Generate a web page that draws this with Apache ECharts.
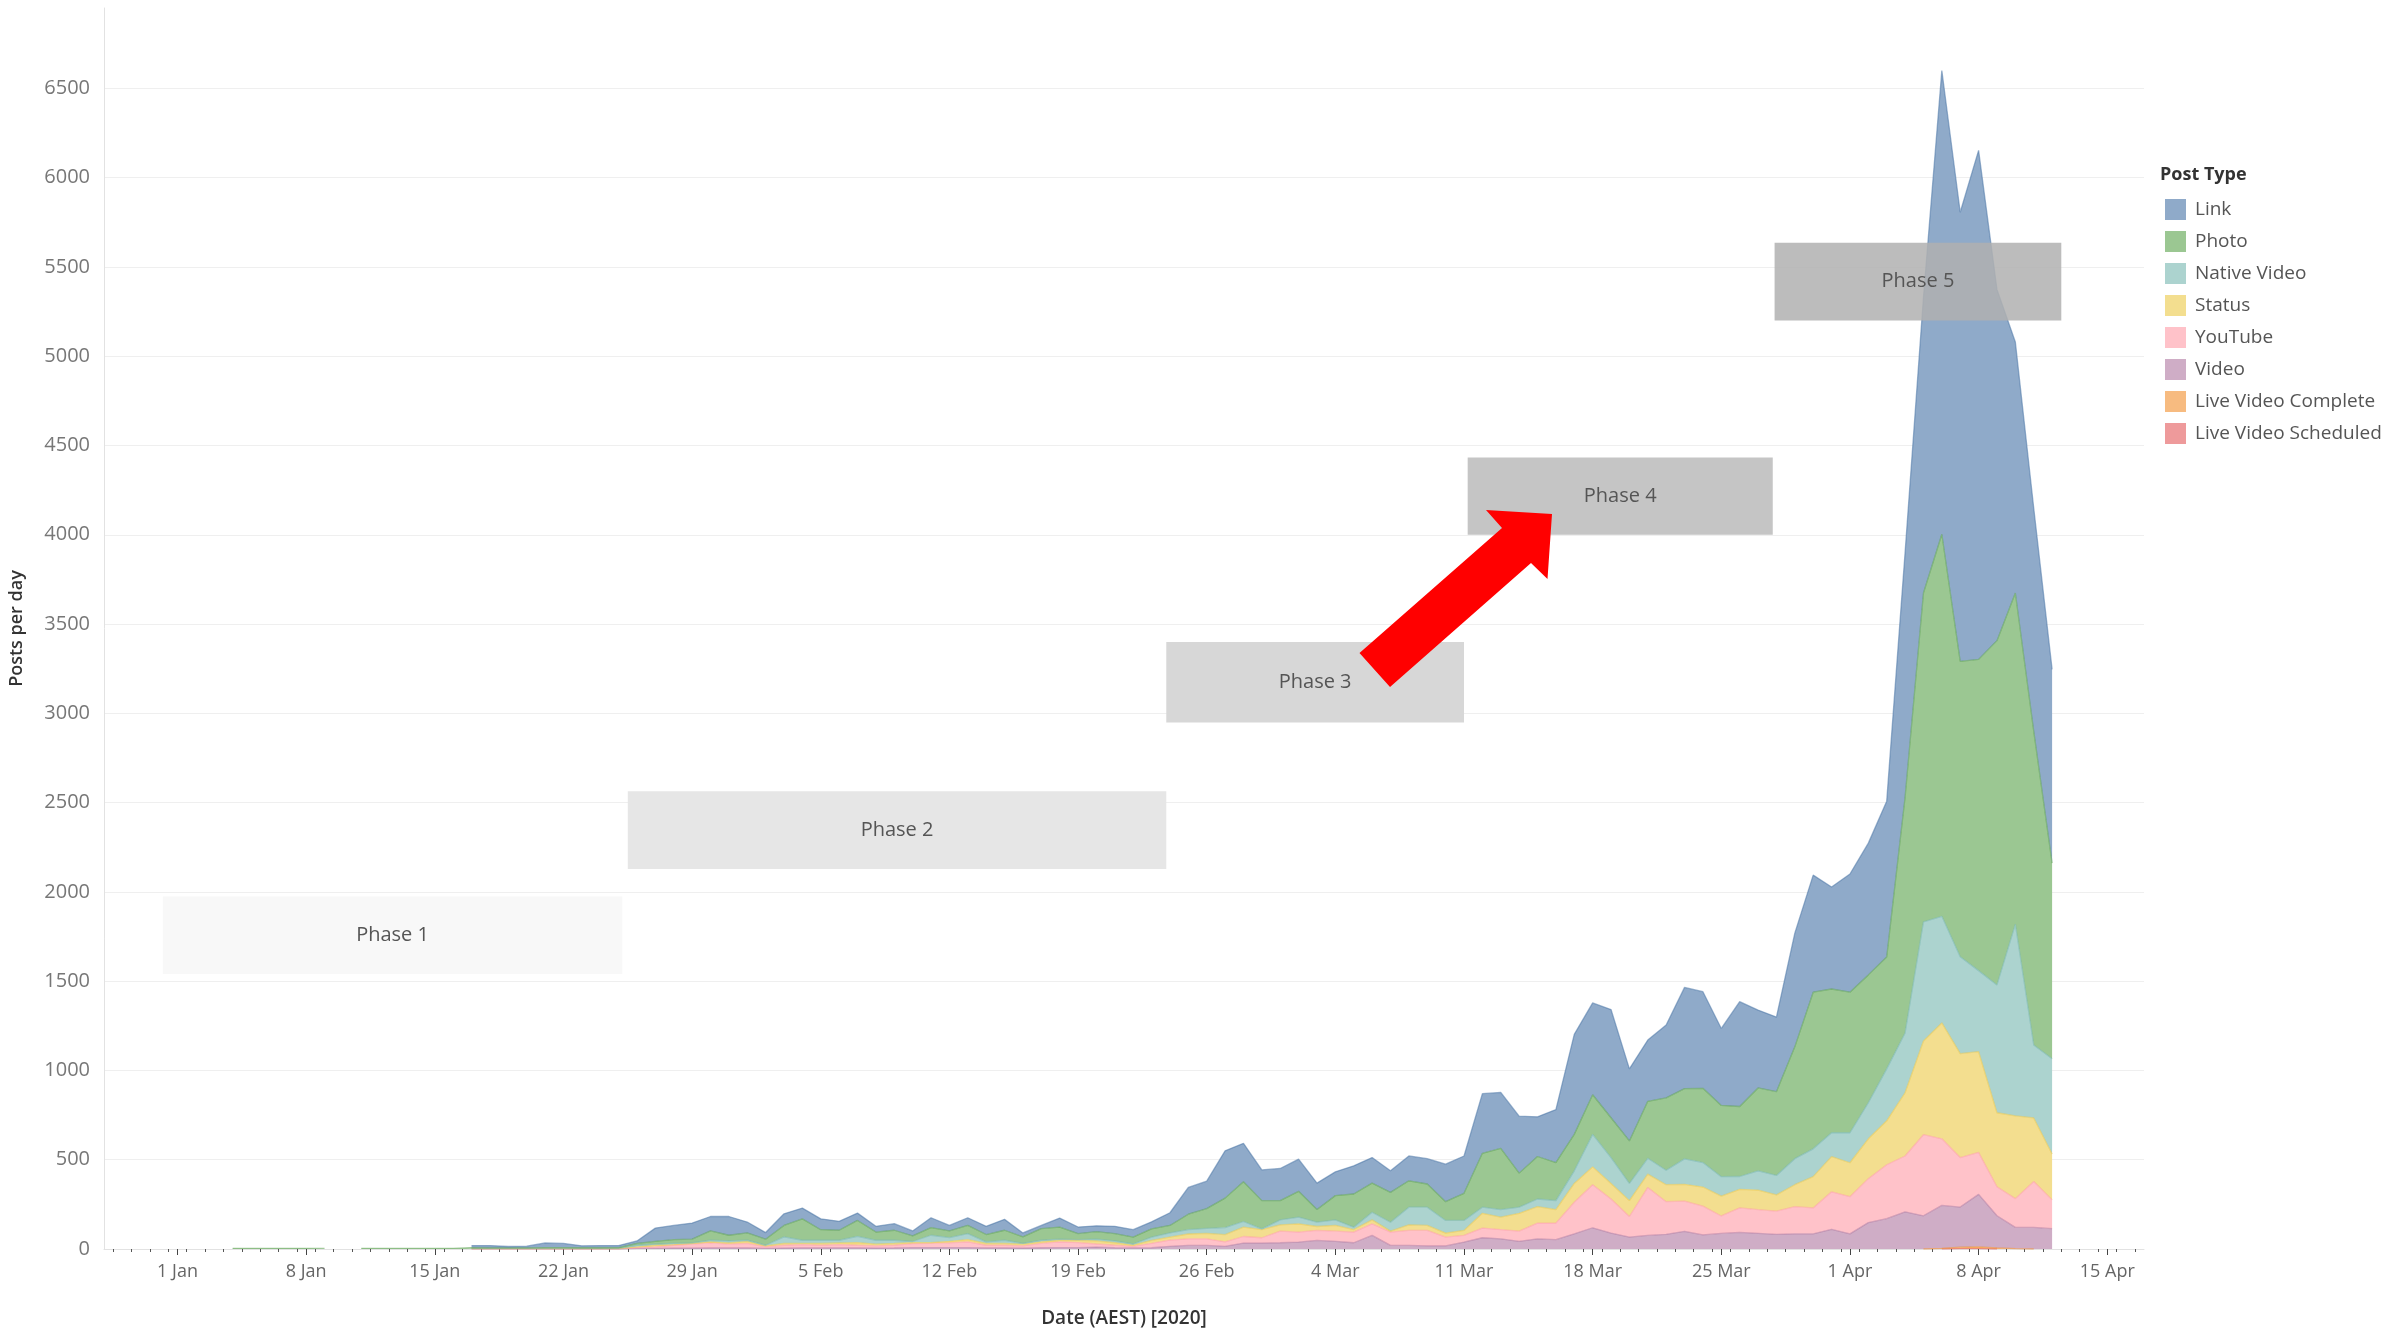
<!DOCTYPE html>
<html>
<head>
<meta charset="utf-8">
<title>Posts per day by post type</title>
<script src="https://cdn.jsdelivr.net/npm/echarts@6/dist/echarts.min.js"></script>
<style>
  html, body { margin: 0; padding: 0; background: #fff; }
  #chart { width: 2407px; height: 1333px; }
</style>
</head>
<body>
<div id="chart"></div>
<script>
// index 0 = 3 Jan 2020 (day offsets counted from 1 Jan 2020)
const firstDay = 3;
const monthNames = ['Jan', 'Feb', 'Mar', 'Apr', 'May', 'Jun', 'Jul', 'Aug', 'Sep', 'Oct', 'Nov', 'Dec'];
const weekTicks = [0, 7, 14, 21, 28, 35, 42, 49, 56, 63, 70, 77, 84, 91, 98, 105];

const N13 = [null, null, null, null, null, null, null, null, null, null, null, null, null];

// posts per day, 3 Jan .. 12 Apr
const link = N13.concat([12, 13, 8, 10, 26, 23, 11, 12, 11,
  14, 74, 79, 90, 81, 105, 61, 37, 65, 60, 61, 50, 41, 32, 37, 28, 55, 31, 43, 46, 61, 22, 18, 50, 37,
  33, 41, 41, 39, 71, 150, 154, 265, 215, 172, 180, 180, 148, 133, 158, 143, 121, 139, 142, 210,
  209, 334, 313, 319, 222, 297, 560, 514, 606, 404, 343, 408, 567, 541, 431, 587, 436, 418,
  637, 656, 571, 662, 738, 873, 1370, 1656, 2597, 2515, 2851, 1967, 1405, 1250, 1085]);

const photo = [3, 3, 3, 3, 3, 3, null, 3, 3, 3, 3, 3, 3].concat([4, 3, 3, 3, 5, 5, 4, 4, 5,
  10, 16, 22, 21, 52, 32, 41, 34, 64, 120, 59, 56, 89, 46, 56, 31, 43, 37, 46, 41, 56, 37, 65, 68, 34,
  42, 41, 39, 47, 42, 86, 111, 165, 223, 158, 108, 145, 71, 136, 186, 163, 167, 148, 130, 105,
  152, 302, 343, 191, 238, 213, 204, 222, 223, 238, 319, 405, 393, 416, 399, 392, 464, 469,
  626, 877, 805, 787, 716, 626, 1320, 1842, 2140, 1654, 1743, 1928, 1855, 1757, 1096]);

const nativeVideo = N13.concat([1, 1, 1, 1, 1, 1, 1, 1, 1,
  9, 6, 6, 3, 9, 11, 6, 3, 37, 18, 18, 15, 35, 22, 18, 6, 41, 21, 33, 9, 18, 4, 9, 6, 3,
  10, 10, 6, 18, 23, 25, 28, 40, 32, 4, 28, 37, 24, 31, 13, 43, 50, 99, 102, 71,
  56, 34, 43, 34, 43, 50, 71, 182, 145, 96, 89, 81, 143, 137, 109, 72, 108, 109,
  146, 156, 134, 168, 202, 291, 335, 667, 597, 543, 454, 716, 1074, 409, 533]);

const status = N13.concat([1, 1, 1, 1, 1, 1, 1, 1, 1,
  4, 9, 4, 4, 6, 7, 12, 6, 10, 6, 10, 9, 15, 9, 10, 6, 5, 9, 13, 10, 10, 9, 9, 9, 13,
  17, 14, 7, 16, 17, 27, 30, 40, 52, 46, 35, 46, 22, 32, 14, 22, 5, 31, 28, 22,
  28, 83, 69, 100, 92, 76, 105, 100, 87, 89, 74, 95, 94, 107, 111, 104, 110, 91,
  123, 175, 197, 190, 223, 246, 354, 525, 649, 582, 564, 414, 463, 356, 257]);

const youtube = N13.concat([1, 1, 1, 1, 1, 1, 1, 1, 1,
  5, 8, 16, 22, 28, 21, 25, 8, 16, 19, 15, 19, 15, 13, 15, 22, 23, 26, 32, 15, 15, 13, 24, 32, 28,
  17, 14, 9, 25, 35, 37, 37, 25, 37, 30, 65, 56, 56, 57, 60, 65, 75, 84, 87, 50,
  37, 54, 52, 57, 88, 93, 177, 241, 191, 115, 269, 183, 169, 161, 98, 137, 132, 130,
  152, 145, 210, 208, 246, 302, 313, 454, 373, 277, 235, 163, 161, 257, 161]);

const video = N13.concat([0, 0, 0, 0, 0, 0, 0, 0, 0,
  3, 4, 5, 5, 6, 6, 6, 4, 5, 6, 6, 6, 6, 5, 6, 8, 8, 8, 8, 6, 6, 5, 7, 8, 8,
  11, 7, 6, 7, 15, 20, 20, 15, 33, 33, 35, 39, 48, 43, 35, 76, 20, 20, 17, 17,
  39, 63, 57, 43, 57, 52, 85, 119, 89, 67, 76, 82, 99, 79, 87, 93, 88, 82,
  85, 85, 110, 85, 148, 170, 208, 186, 241, 225, 294, 180, 119, 121, 114]);

// only a handful of live videos, around 7-9 Apr
const liveComplete = new Array(92).fill(null).concat([0, 3, 8, 10, 6, 2, 0, null]);
const liveScheduled = new Array(93).fill(null).concat([0, 2, 2, 0, null, null, null]);

const legendOrder = ['Link', 'Photo', 'Native Video', 'Status', 'YouTube', 'Video', 'Live Video Complete', 'Live Video Scheduled'];

// phase annotation boxes, in chart units (day offset, posts)
const phaseNames = ['Phase 1', 'Phase 2', 'Phase 3', 'Phase 4', 'Phase 5'];
const phaseX0 = [-0.8, 24.5, 53.8, 70.2, 86.9];
const phaseX1 = [24.2, 53.8, 70.0, 86.8, 102.5];
const phaseY0 = [1540, 2128, 2948, 4000, 5200];
const phaseY1 = [1974, 2563, 3400, 4432, 5635];
const phaseFill = ['#f8f8f8', '#e6e6e6', '#d7d7d7', '#c5c5c5', 'rgba(176,176,176,0.85)'];

const FONT = '"Open Sans", "Noto Sans", sans-serif';

function dayLabel(d) {
  const dt = new Date(2020, 0, 1 + d);
  return dt.getDate() + ' ' + monthNames[dt.getMonth()];
}

const halfDayTicks = [];
for (let d = -4; d < 107; d++) halfDayTicks.push(d + 0.5);

const stackDefs = [
  { name: 'Live Video Scheduled', data: liveScheduled, fill: '#EE9A9B', line: '#E15759' },
  { name: 'Live Video Complete', data: liveComplete, fill: '#F7BB80', line: '#F28E2B' },
  { name: 'Video', data: video, fill: '#CFADC6', line: '#B07AA1' },
  { name: 'YouTube', data: youtube, fill: '#FFC2C9', line: '#FF9DA7' },
  { name: 'Status', data: status, fill: '#F3DE8F', line: '#EDC948' },
  { name: 'Native Video', data: nativeVideo, fill: '#ACD3CF', line: '#76B7B2' },
  { name: 'Photo', data: photo, fill: '#9BC792', line: '#59A14F' },
  { name: 'Link', data: link, fill: '#8FAAC9', line: '#4E79A7' }
];

// value first so the stack sums posts, not days
const series = stackDefs.map(s => ({
  name: s.name,
  type: 'line',
  stack: 'total',
  symbol: 'none',
  connectNulls: false,
  encode: { x: 1, y: 0 },
  data: s.data.map((v, i) => [v, firstDay + i]),
  itemStyle: { color: s.fill },
  lineStyle: { color: s.line, width: 1.3, opacity: 0.55 },
  areaStyle: { color: s.fill, opacity: 1 },
  emphasis: { disabled: true }
}));

// annotation boxes, drawn above the areas
series.push({
  name: 'phases',
  type: 'line',
  data: [],
  z: 5,
  silent: true,
  markArea: {
    z: 10,
    silent: true,
    label: { show: true, position: 'inside', color: '#555', fontSize: 20, fontFamily: FONT },
    data: phaseNames.map((n, i) => [
      { name: n, coord: [phaseX0[i], phaseY1[i]], itemStyle: { color: phaseFill[i] } },
      { coord: [phaseX1[i], phaseY0[i]] }
    ])
  }
});

const chart = echarts.init(document.getElementById('chart'));

chart.setOption({
  animation: false,
  backgroundColor: '#fff',
  grid: { left: 100, right: 263, top: 8, bottom: 78, containLabel: false },
  legend: {
    orient: 'vertical',
    left: 2160,
    top: 194,
    icon: 'rect',
    itemWidth: 21,
    itemHeight: 21,
    itemGap: 11,
    selectedMode: false,
    itemStyle: { borderWidth: 0 },
    textStyle: { fontSize: 19, color: '#555', fontFamily: FONT, padding: [0, 0, 0, 4] },
    data: legendOrder
  },
  xAxis: [
    {
      type: 'value',
      min: -4,
      max: 107,
      name: 'Date (AEST) [2020]',
      nameLocation: 'middle',
      nameGap: 60,
      nameTextStyle: { fontSize: 19, fontWeight: 600, color: '#333', fontFamily: FONT },
      axisLine: { show: true, onZero: false, lineStyle: { color: '#e2e2e2', width: 1 } },
      axisTick: { show: true, customValues: weekTicks, length: 6, lineStyle: { color: '#444' } },
      axisLabel: { customValues: weekTicks, formatter: dayLabel, color: '#666', fontSize: 18, margin: 14, fontFamily: FONT },
      splitLine: { show: false }
    },
    {
      type: 'value',
      min: -4,
      max: 107,
      position: 'bottom',
      axisLine: { show: false, onZero: false },
      axisLabel: { show: false },
      splitLine: { show: false },
      axisTick: { show: true, customValues: halfDayTicks, length: 3, lineStyle: { color: '#555' } }
    }
  ],
  yAxis: {
    type: 'value',
    min: 0,
    max: 6950,
    interval: 500,
    name: 'Posts per day',
    nameLocation: 'middle',
    nameGap: 78,
    nameRotate: 90,
    nameTextStyle: { fontSize: 18, fontWeight: 600, color: '#333', fontFamily: FONT },
    axisLine: { show: true, onZero: false, lineStyle: { color: '#e2e2e2' } },
    axisTick: { show: false },
    axisLabel: { showMaxLabel: false, formatter: v => String(v), color: '#777', fontSize: 20, margin: 14, fontFamily: FONT },
    splitLine: { show: true, showMaxLine: false, lineStyle: { color: '#efefef', width: 1 } }
  },
  graphic: [
    {
      type: 'text',
      left: 2160,
      top: 166,
      style: { text: 'Post Type', fontSize: 18, fontWeight: 'bold', fill: '#333', fontFamily: FONT }
    },
    {
      // red arrow from Phase 3 towards Phase 4
      type: 'polygon',
      z: 100,
      shape: {
        points: [[1486, 510], [1552, 514], [1547.5, 579], [1531, 563], [1390, 687], [1359.5, 653], [1502, 528]]
      },
      style: { fill: '#ff0000' }
    }
  ],
  series: series
});
</script>
</body>
</html>
